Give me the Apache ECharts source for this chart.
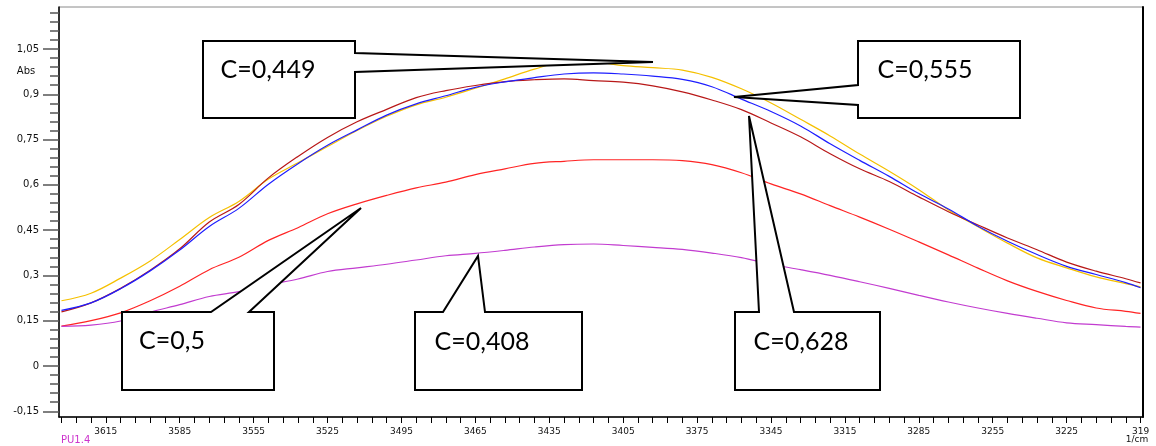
<!DOCTYPE html>
<html>
<head>
<meta charset="utf-8">
<script src="https://cdn.jsdelivr.net/npm/echarts@6/dist/echarts.min.js"></script>
<style>
html,body{margin:0;padding:0;background:#fff;}
#chart{width:1156px;height:446px;}
</style>
</head>
<body>
<div id="chart"></div>
<script>
// Wavenumbers (1/cm) of the sampled points
const wavenumbers = [3633,3621,3609,3597,3585,3573,3561,3549,3537,3525,3513,3501,3489,3477,3465,3453,3441,3429,3417,3405,3393,3381,3369,3357,3345,3333,3321,3309,3297,3285,3273,3261,3249,3237,3225,3213,3201,3195];
// Absorbance series
const seriesC0449 = [0.216,0.241,0.291,0.348,0.419,0.492,0.545,0.619,0.673,0.727,0.780,0.827,0.865,0.890,0.920,0.951,0.983,1.006,1.006,0.995,0.988,0.980,0.956,0.918,0.871,0.817,0.762,0.702,0.645,0.584,0.517,0.461,0.407,0.358,0.325,0.295,0.273,0.262];
const seriesC0555 = [0.184,0.209,0.256,0.315,0.384,0.462,0.522,0.602,0.670,0.731,0.782,0.831,0.868,0.895,0.923,0.941,0.955,0.967,0.971,0.967,0.960,0.949,0.925,0.884,0.843,0.795,0.736,0.681,0.628,0.571,0.520,0.463,0.413,0.369,0.330,0.303,0.276,0.259];
const seriesC0628 = [0.179,0.209,0.257,0.317,0.388,0.477,0.535,0.623,0.694,0.757,0.809,0.850,0.889,0.912,0.929,0.942,0.948,0.951,0.945,0.940,0.928,0.908,0.881,0.849,0.805,0.759,0.703,0.653,0.611,0.560,0.511,0.467,0.424,0.385,0.344,0.314,0.289,0.275];
const seriesC05 = [0.132,0.150,0.176,0.216,0.264,0.319,0.360,0.416,0.458,0.504,0.537,0.565,0.590,0.609,0.634,0.653,0.671,0.678,0.683,0.683,0.683,0.680,0.667,0.640,0.603,0.570,0.531,0.493,0.453,0.411,0.368,0.324,0.282,0.247,0.217,0.192,0.181,0.174];
const seriesC0408 = [0.131,0.135,0.149,0.178,0.203,0.230,0.246,0.269,0.288,0.313,0.325,0.337,0.351,0.365,0.373,0.383,0.394,0.402,0.404,0.399,0.393,0.386,0.374,0.359,0.337,0.319,0.300,0.279,0.257,0.234,0.212,0.192,0.174,0.158,0.143,0.137,0.131,0.129];

// Tick values and labels
const xTickValues = [3615,3585,3555,3525,3495,3465,3435,3405,3375,3345,3315,3285,3255,3225,3195];
const xTickLabels = ['3615','3585','3555','3525','3495','3465','3435','3405','3375','3345','3315','3285','3255','3225','319'];
const yTickValues = [-0.15,0,0.15,0.3,0.45,0.6,0.75,0.9,1.05];
const yTickLabels = ['-0,15','0','0,15','0,3','0,45','0,6','0,75','0,9','1,05'];

const xMinorTicks = [];
for (let w = 3633; w >= 3195; w -= 6) xMinorTicks.push(w);
const yMinorTicks = [];
for (let k = -5; k <= 39; k++) yMinorTicks.push(Math.round(k * 3) / 100);

const X_MIN = 3194, X_MAX = 3634, Y_MIN = -0.169, Y_MAX = 1.189;

const lineDefs = [
  {name: 'C=0,449', data: seriesC0449, color: '#F5C000'},
  {name: 'C=0,628', data: seriesC0628, color: '#B81818'},
  {name: 'C=0,555', data: seriesC0555, color: '#1E1EFF'},
  {name: 'C=0,5',   data: seriesC05,   color: '#FF2424'},
  {name: 'C=0,408', data: seriesC0408, color: '#C23CD0'}
];

const chart = echarts.init(document.getElementById('chart'), null, {renderer: 'canvas'});

function box(points, label, tx, ty) {
  return [
    {type: 'polygon', z: 100, shape: {points: points},
     style: {fill: '#fff', stroke: '#000', lineWidth: 2, lineJoin: 'miter'}},
    {type: 'text', z: 101, x: tx, y: ty,
     style: {text: label, fill: '#000', font: '25px Lato', align: 'center', verticalAlign: 'middle'}}
  ];
}

const graphics = [].concat(
  box([[203,41],[355,41],[355,53],[653,62],[355,72],[355,118],[203,118]], 'C=0,449', 268, 70),
  box([[858,41],[1020,41],[1020,118],[858,118],[858,105],[734,97],[858,85]], 'C=0,555', 925, 70),
  box([[122,312],[211,312],[361,208],[249,312],[274,312],[274,390],[122,390]], 'C=0,5', 172, 341),
  box([[415,312],[443,312],[478,256],[485,312],[582,312],[582,390],[415,390]], 'C=0,408', 482, 342),
  box([[735,312],[759,312],[749,116],[794,312],[880,312],[880,390],[735,390]], 'C=0,628', 801, 342),
  [
    {type: 'text', x: 26, y: 71, style: {text: 'Abs', fill: '#111', font: '10px "DejaVu Sans"', align: 'center', verticalAlign: 'middle'}},
    {type: 'text', x: 1137, y: 440, style: {text: '1/cm', fill: '#111', font: '9px "DejaVu Sans"', align: 'center', verticalAlign: 'middle'}},
    {type: 'text', x: 61, y: 440, style: {text: 'PU1.4', fill: '#CC33CC', font: '10px "DejaVu Sans"', align: 'left', verticalAlign: 'middle'}}
  ]
);

const option = {
  animation: false,
  backgroundColor: '#ffffff',
  grid: {left: 59, right: 13, top: 7, bottom: 29, show: true, borderColor: '#8a8a8a', borderWidth: 1, outerBoundsMode: 'none'},
  xAxis: {
    type: 'value', inverse: true, min: X_MIN, max: X_MAX,
    axisLine: {show: true, onZero: false, lineStyle: {color: '#000', width: 1.5}},
    axisTick: {show: true, customValues: xMinorTicks, length: 6, lineStyle: {color: '#000', width: 1}},
    axisLabel: {show: true, customValues: xTickValues, margin: 10, fontSize: 9, fontFamily: 'DejaVu Sans', color: '#111',
      formatter: function (v) { const i = xTickValues.indexOf(v); return i >= 0 ? xTickLabels[i] : ''; }},
    splitLine: {show: false}
  },
  yAxis: [
    {
      type: 'value', min: Y_MIN, max: Y_MAX, position: 'left',
      axisLine: {show: true, onZero: false, lineStyle: {color: '#000', width: 1.5}},
      axisTick: {show: true, customValues: yTickValues, length: 16, lineStyle: {color: '#555', width: 1.5}},
      axisLabel: {show: true, customValues: yTickValues, margin: 20, fontSize: 10, fontFamily: 'DejaVu Sans', color: '#111',
        formatter: function (v) { for (let i = 0; i < yTickValues.length; i++) { if (Math.abs(yTickValues[i] - v) < 1e-6) return yTickLabels[i]; } return ''; }},
      splitLine: {show: false}
    },
    {
      type: 'value', min: Y_MIN, max: Y_MAX, position: 'left',
      axisLine: {show: false},
      axisTick: {show: true, customValues: yMinorTicks, length: 9, lineStyle: {color: '#555', width: 1.5}},
      axisLabel: {show: false},
      splitLine: {show: false}
    },
    {
      type: 'value', min: Y_MIN, max: Y_MAX, position: 'right',
      axisLine: {show: true, onZero: false, lineStyle: {color: '#000', width: 2}},
      axisTick: {show: false}, axisLabel: {show: false}, splitLine: {show: false}
    }
  ],
  series: lineDefs.map(function (d) {
    return {
      name: d.name, type: 'line', xAxisIndex: 0, yAxisIndex: 0,
      data: wavenumbers.map(function (w, i) { return [w, d.data[i]]; }),
      showSymbol: false, smooth: 0.35, clip: true,
      lineStyle: {color: d.color, width: 1.2}
    };
  }),
  graphic: graphics
};
chart.setOption(option);
</script>
</body>
</html>
